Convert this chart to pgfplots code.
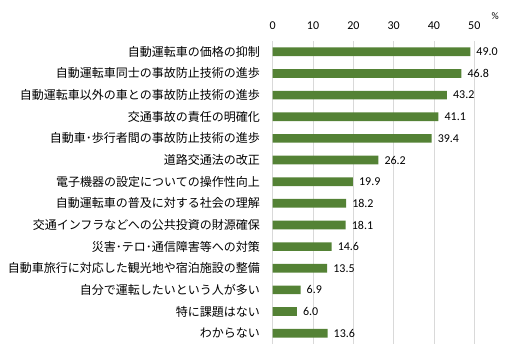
\documentclass[border=0pt]{standalone}
\usepackage{pgfplots}
\pgfplotsset{compat=1.18}
\usepackage{fontspec}
\setmainfont{Carlito}
\newfontfamily\jp{Noto Sans CJK JP}
\definecolor{bargreen}{HTML}{548235}
\definecolor{gridgray}{HTML}{D9D9D9}
\begin{document}
\begin{tikzpicture}
\useasboundingbox (0,0) rectangle (506pt,361pt);
\begin{axis}[
  at={(272.7pt,17pt)}, anchor=south west,
  scale only axis, width=201.6pt, height=303pt,
  xmin=0, xmax=50, ymin=-0.5, ymax=13.5,
  y dir=reverse,
  xbar, bar width=8.7pt,
  axis line style={draw=none},
  xticklabel pos=upper,
  xtick={0,10,20,30,40,50},
  xmajorgrids, grid style={color=gridgray, line width=0.8pt},
  major tick length=0pt,
  /pgf/number format/assume math mode=true,
  xticklabel style={font=\fontsize{12}{12}\selectfont, anchor=base, inner sep=0pt, yshift=12pt},
  ytick={0,...,13},
  yticklabels={自動運転車の価格の抑制,自動運転車同士の事故防止技術の進歩,自動運転車以外の車との事故防止技術の進歩,交通事故の責任の明確化,自動車･歩行者間の事故防止技術の進歩,道路交通法の改正,電子機器の設定についての操作性向上,自動運転車の普及に対する社会の理解,交通インフラなどへの公共投資の財源確保,災害･テロ･通信障害等への対策,自動車旅行に対応した観光地や宿泊施設の整備,自分で運転したいという人が多い,特に課題はない,わからない},
  yticklabel style={font=\jp\fontsize{12}{12}\selectfont, anchor=east, inner sep=0pt, xshift=-12.7pt},
  nodes near coords={\pgfmathprintnumber[fixed,fixed zerofill,precision=1]{\pgfplotspointmeta}},
  point meta=x,
  every node near coord/.append style={font=\fontsize{12}{12}\selectfont, anchor=west, inner sep=0pt, xshift=6pt, color=black},
  clip=false,
]
\addplot[fill=bargreen, draw=none] coordinates {
(49.0,0) (46.8,1) (43.2,2) (41.1,3) (39.4,4) (26.2,5) (19.9,6) (18.2,7) (18.1,8) (14.6,9) (13.5,10) (6.9,11) (6.0,12) (13.6,13)};
\node[font=\fontsize{10}{10}\selectfont, inner sep=0pt] at ([xshift=21pt,yshift=25pt]rel axis cs:1,1) {\%};
\end{axis}
\end{tikzpicture}
\end{document}
